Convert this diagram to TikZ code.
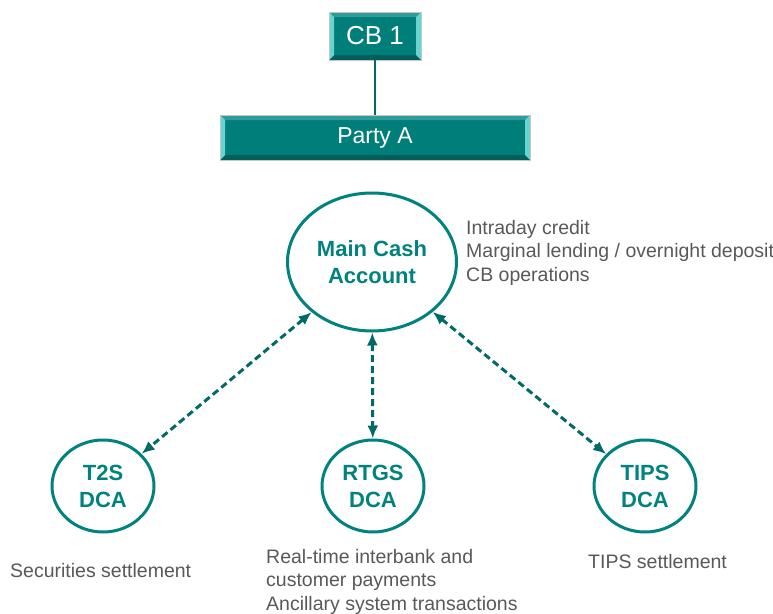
\documentclass[tikz,border=0pt]{standalone}
\usepackage{fontspec}
\setmainfont{Liberation Sans}
\usetikzlibrary{shapes.geometric,arrows.meta}
\definecolor{accteal}{HTML}{00827F}
\definecolor{linkteal}{HTML}{006A66}
\definecolor{boxteal}{HTML}{007E7A}
\definecolor{bevellight}{HTML}{67D4D0}
\definecolor{beveltop}{HTML}{2E9C98}
\definecolor{beveldark}{HTML}{005E5B}
\definecolor{notegrey}{HTML}{595959}
\tikzset{
	bevelbox/.style={draw=gray!45, line width=0.8pt, fill=boxteal, text=white, inner sep=0pt,
		path picture={
			\fill[beveltop] (path picture bounding box.north west) -- (path picture bounding box.north east) -- ++(-5pt,-5pt) -- ([shift={(5pt,-5pt)}]path picture bounding box.north west) -- cycle;
			\fill[beveldark] (path picture bounding box.south west) -- (path picture bounding box.south east) -- ++(-5pt,5pt) -- ([shift={(5pt,5pt)}]path picture bounding box.south west) -- cycle;
			\fill[bevellight] (path picture bounding box.north west) -- ++(5pt,-5pt) -- ([shift={(5pt,5pt)}]path picture bounding box.south west) -- (path picture bounding box.south west) -- cycle;
			\fill[bevellight] (path picture bounding box.north east) -- ++(-5pt,-5pt) -- ([shift={(-5pt,5pt)}]path picture bounding box.south east) -- (path picture bounding box.south east) -- cycle;
		}},
	account/.style={ellipse, draw=accteal, line width=3pt, text=accteal, inner sep=0pt, align=center,
		font=\fontsize{22}{27}\selectfont\bfseries},
	link/.style={linkteal, line width=3pt, dash pattern=on 7pt off 4pt, {Latex[length=13pt,width=11pt]}-{Latex[length=13pt,width=11pt]}},
	note/.style={text=notegrey, inner sep=0pt, align=left, font=\fontsize{19.5}{23.5}\selectfont}
}
\begin{document}
\begin{tikzpicture}[x=1pt,y=-1pt]
	\useasboundingbox[fill=white] (0,0) rectangle (773,613);
	% central bank and participant
	\node[bevelbox, minimum width=92pt, minimum height=48pt, font=\fontsize{26}{30}\selectfont] (cb) at (375,36) {CB 1};
	\node[bevelbox, minimum width=310pt, minimum height=45pt, font=\fontsize{23}{27}\selectfont] (party) at (375,137.5) {Party A};
	\draw[linkteal, line width=2.5pt] (cb.south) -- (party.north);
	% accounts
	\node[account, minimum width=169pt, minimum height=138pt] (mca) at (372,262) {Main Cash\\Account};
	\node[account, minimum width=102pt, minimum height=92pt] (t2s) at (103,486) {T2S\\DCA};
	\node[account, minimum width=102pt, minimum height=92pt] (rtgs) at (373,486) {RTGS\\DCA};
	\node[account, minimum width=102pt, minimum height=92pt] (tips) at (645,486) {TIPS\\DCA};
	\draw[link] (mca) -- (t2s);
	\draw[link] (mca) -- (rtgs);
	\draw[link] (mca) -- (tips);
	% descriptions
	\node[note, anchor=north west] (mcanote) at (466,220) {Intraday credit\\Marginal lending / overnight deposit\\CB operations};
	\node[note, anchor=west] (t2snote) at (10,571) {Securities settlement};
	\node[note, anchor=north west] (rtgsnote) at (266,549) {Real-time interbank and\\customer payments\\Ancillary system transactions};
	\node[note, anchor=west] (tipsnote) at (588,562) {TIPS settlement};
\end{tikzpicture}
\end{document}
